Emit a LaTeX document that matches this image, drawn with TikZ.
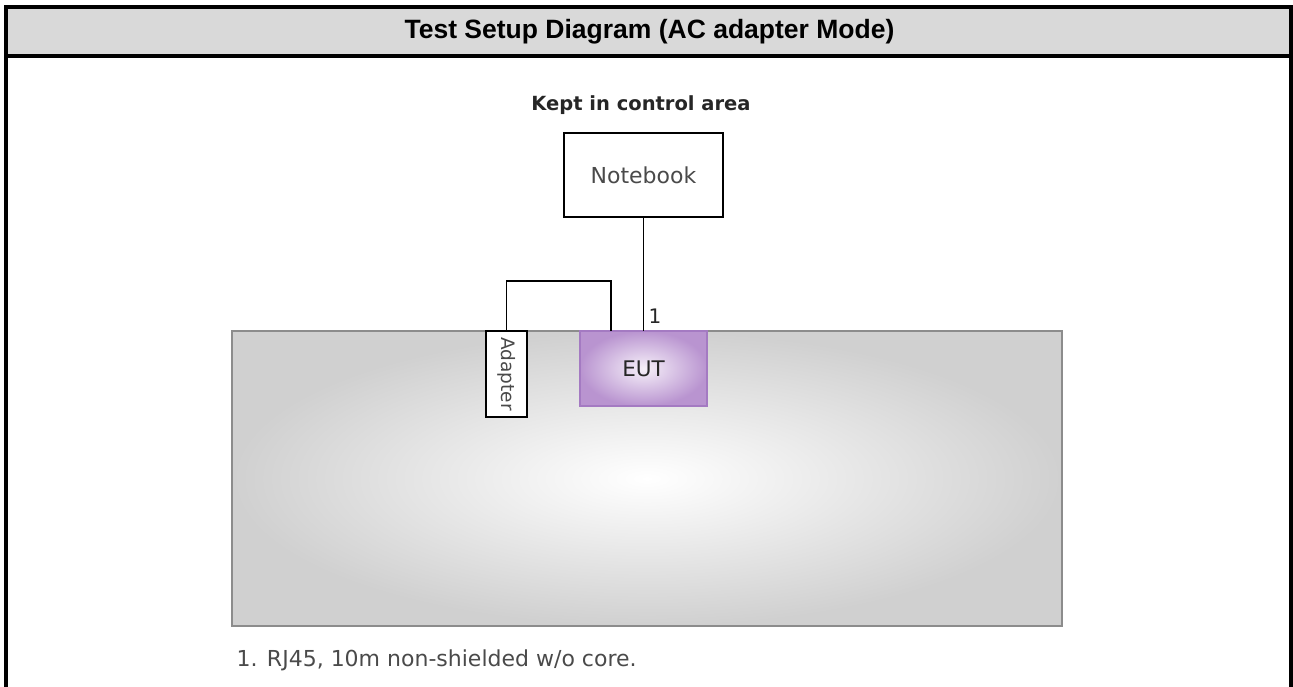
\documentclass[tikz,border=0pt]{standalone}
\usepackage{fontspec}
\setmainfont{DejaVu Sans}
\newfontfamily\hdrfont{Liberation Sans}
\definecolor{hdrgray}{HTML}{D9D9D9}
\definecolor{tablegray}{HTML}{D0D0D0}
\definecolor{tableborder}{HTML}{8C8C8C}
\definecolor{eutouter}{HTML}{B994D0}
\definecolor{eutinner}{HTML}{F6F0F9}
\definecolor{eutborder}{HTML}{A47AC2}
\definecolor{txtgray}{HTML}{4A4A4A}
\begin{document}
\begin{tikzpicture}[x=1pt,y=-1pt,
  frameline/.style={line width=4pt,black,line join=miter},
  boxnode/.style={draw=black,line width=1.8pt,fill=white,inner sep=0pt,outer sep=0pt},
  cable/.style={draw=black,line width=1.8pt},
  tablebox/.style={draw=tableborder,line width=2pt,inner color=white,outer color=tablegray,inner sep=0pt,outer sep=0pt},
  eutbox/.style={draw=eutborder,line width=1.5pt,inner color=eutinner,outer color=eutouter,inner sep=0pt,outer sep=0pt},
  regtext/.style={text=txtgray,font=\fontsize{22}{26}\selectfont},
]
\useasboundingbox (0,0) rectangle (1293,687);
% header and frame
\fill[hdrgray] (8,9) rectangle (1289,54);
\draw[frameline] (6,687) -- (6,7) -- (1291,7) -- (1291,687);
\draw[frameline] (4,56) -- (1293,56);
\node[anchor=base,inner sep=0pt,font=\hdrfont\bfseries\fontsize{26.5}{30}\selectfont] (title) at (649.5,39) {Test Setup Diagram (AC adapter Mode)};
% control area
\node[anchor=base,inner sep=0pt,text=black!85,font=\bfseries\fontsize{19.5}{23}\selectfont] (kept) at (641,111) {Kept in control area};
\node[boxnode,minimum width=159pt,minimum height=84pt,regtext] (notebook) at (643.5,175) {Notebook};
% table
\node[tablebox,minimum width=830pt,minimum height=295pt] (table) at (647,478.5) {};
\node[eutbox,minimum width=127pt,minimum height=75pt,text=black!85,font=\fontsize{21.5}{25}\selectfont] (eut) at (643.5,368.5) {EUT};
\node[boxnode,minimum width=41pt,minimum height=86pt,text=txtgray,font=\fontsize{18.5}{22}\selectfont] (adapter) at (506.5,374) {\rotatebox{-90}{Adapter}};
% connectors
\draw[cable] (notebook.south) -- (eut.north);
\node[inner sep=0pt,text=black!85,font=\fontsize{20}{24}\selectfont] (lbl1) at (655,316) {1};
\coordinate (bend) at (611,281);
\draw[cable] (adapter.north) |- (bend) -- (bend |- eut.north);
% footnote
\node[anchor=base west,inner sep=0pt,regtext] (note) at (236.5,666) {1. RJ45, 10m non-shielded w/o core.};
\end{tikzpicture}
\end{document}
